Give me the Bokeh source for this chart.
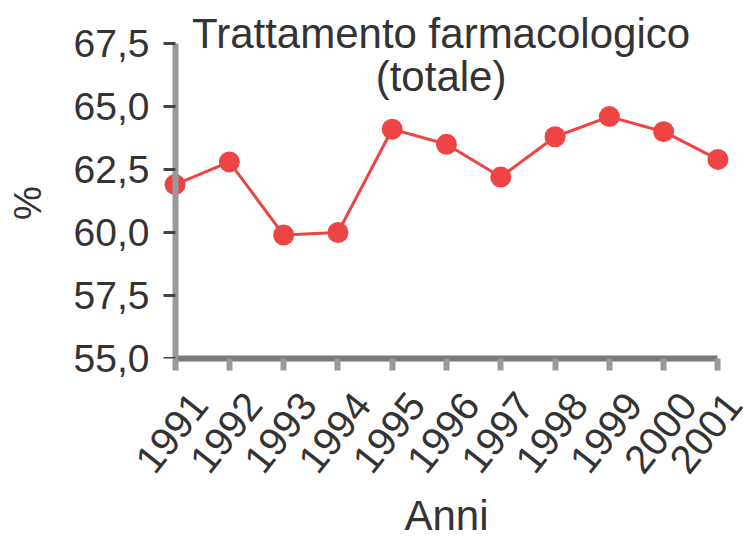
from bokeh.plotting import figure
from bokeh.models import Range1d, FixedTicker, Label, LinearAxis
from bokeh.embed import file_html
from bokeh.resources import INLINE

# ---- data ----
years = [1991, 1992, 1993, 1994, 1995, 1996, 1997, 1998, 1999, 2000, 2001]
values = [61.9, 62.8, 59.9, 60.0, 64.1, 63.5, 62.2, 63.8, 64.6, 64.0, 62.9]
y_ticks = [55.0, 57.5, 60.0, 62.5, 65.0, 67.5]
y_tick_labels = ["55,0", "57,5", "60,0", "62,5", "65,0", "67,5"]
x_tick_labels = [str(y) for y in years]
title_lines = ["Trattamento farmacologico", "(totale)"]
x_label = "Anni"
y_label = "%"

FONT = "Liberation Sans"
TXT = "#333333"
RED = "#EE4444"

# layout: room beside the first/last year and above the top tick for the title
X_PAD = 0.25
Y_TOP_PAD = 38 / 25.2

p = figure(frame_width=570, frame_height=353,
           min_border_left=161, min_border_right=19,
           min_border_top=5, min_border_bottom=181,
           x_range=Range1d(years[0] - X_PAD, years[-1] + X_PAD),
           y_range=Range1d(y_ticks[0], y_ticks[-1] + Y_TOP_PAD),
           output_backend="svg", toolbar_location=None)
p.outline_line_color = None
p.xgrid.visible = False
p.ygrid.visible = False
p.background_fill_color = "white"
p.border_fill_color = "white"

p.line(years, values, line_color=RED, line_width=3)
p.scatter(years, values, size=21, fill_color=RED, line_color=None)

# y axis labels (at the frame edge, no line/ticks)
ya = p.yaxis[0]
ya.ticker = FixedTicker(ticks=y_ticks)
ya.major_label_overrides = {t: l for t, l in zip(y_ticks, y_tick_labels)}
ya.axis_line_color = None
ya.major_tick_line_color = None
ya.major_tick_out = 0
ya.major_tick_in = 0
ya.minor_tick_line_color = None
ya.major_label_text_font = FONT
ya.major_label_text_font_size = "39px"
ya.major_label_text_color = TXT
ya.major_label_standoff = 12
# non-breaking spaces push the glyph down to the centre of the 55-67.5 span
ya.axis_label = y_label + "\u00a0" * 4
ya.axis_label_text_font = FONT
ya.axis_label_text_font_size = "38px"
ya.axis_label_text_font_style = "normal"
ya.axis_label_text_color = TXT
ya.axis_label_standoff = 22

# y axis line + ticks, drawn at the first year
yline = LinearAxis(fixed_location=years[0], bounds=(y_ticks[0], y_ticks[-1]),
                   ticker=FixedTicker(ticks=y_ticks),
                   major_label_overrides={t: "" for t in y_ticks},
                   axis_line_color="#999999", axis_line_width=6,
                   major_tick_line_color="#444444", major_tick_line_width=3,
                   major_tick_in=12, major_tick_out=0,
                   minor_tick_line_color=None, major_label_standoff=0,
                   major_label_text_font_size="1px")
p.add_layout(yline, "right")

# x axis
xa = p.xaxis[0]
xa.bounds = (years[0], years[-1])
xa.ticker = FixedTicker(ticks=years)
xa.major_label_overrides = {y: "\n" + l for y, l in zip(years, x_tick_labels)}
xa.axis_line_color = "#7a7a7a"
xa.axis_line_width = 6
xa.major_tick_line_color = "#999999"
xa.major_tick_line_width = 6
xa.major_tick_out = 12
xa.major_tick_in = 0
xa.minor_tick_line_color = None
xa.major_label_text_font = FONT
xa.major_label_text_font_size = "40px"
xa.major_label_text_line_height = 1.4
xa.major_label_text_color = TXT
xa.major_label_orientation = 0.9
xa.major_label_standoff = 8
xa.axis_label = x_label
xa.axis_label_text_font = FONT
xa.axis_label_text_font_size = "42px"
xa.axis_label_text_font_style = "normal"
xa.axis_label_text_color = TXT
xa.axis_label_standoff = -25

# title lines
p.add_layout(Label(x=1995.9, y=67.9, text=title_lines[0], text_align="center",
                   text_baseline="middle", text_font=FONT,
                   text_font_size="42px", text_color=TXT))
p.add_layout(Label(x=1995.9, y=66.2, text=title_lines[1], text_align="center",
                   text_baseline="middle", text_font=FONT,
                   text_font_size="42px", text_color=TXT))

open("out.html", "w").write(file_html(p, INLINE))
